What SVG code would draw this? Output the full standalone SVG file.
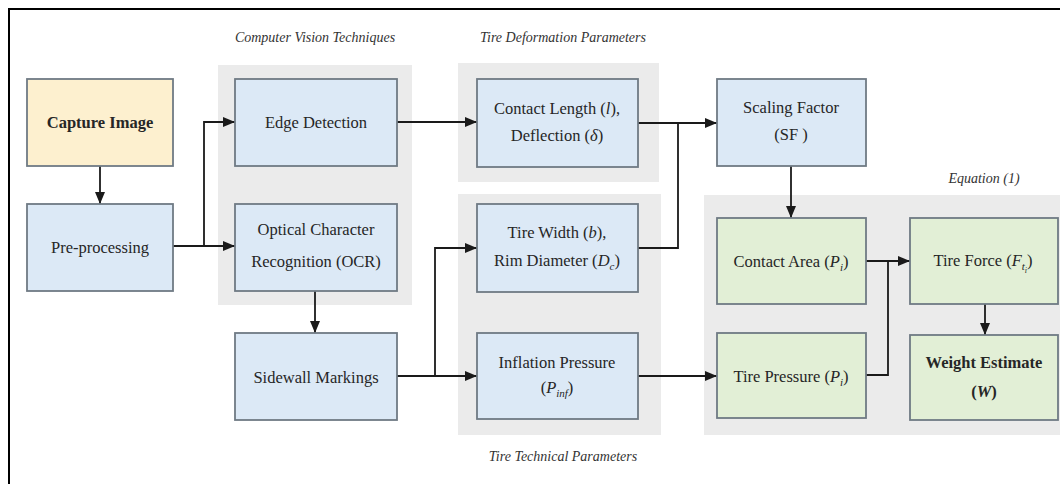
<svg xmlns="http://www.w3.org/2000/svg" width="1060" height="484" viewBox="0 0 1060 484">
  <defs>
    <marker id="arr" markerUnits="userSpaceOnUse" markerWidth="12" markerHeight="10" refX="12" refY="5" orient="auto">
      <path d="M0,0 L12,5 L0,10 Z" fill="#1a1a1a"/>
    </marker>
    <style>
      .grp { fill: #ebebeb; stroke: none; }
      .box { stroke: #6f7a84; stroke-width: 1.8; }
      .blue { fill: #dce9f6; }
      .yellow { fill: #fdf0cf; }
      .green { fill: #e2efd6; }
      .t { font-family: "Liberation Serif", "Times New Roman", serif; font-size: 16.5px; fill: #262626; text-anchor: middle; }
      .b { font-weight: bold; }
      .i { font-style: italic; }
      .title { font-family: "Liberation Serif", "Times New Roman", serif; font-size: 14px; font-style: italic; fill: #333; text-anchor: middle; }
      .con { fill: none; stroke: #1a1a1a; stroke-width: 1.8; }
      .arrow { marker-end: url(#arr); }
    </style>
  </defs>
  <rect x="0" y="0" width="1060" height="484" fill="#ffffff"/>
  <rect x="9" y="9" width="1070" height="500" fill="none" stroke="#000" stroke-width="2"/>

  <g id="groups">
    <rect id="grp-cv" class="grp" x="218" y="65" width="194" height="240"/>
    <rect id="grp-td" class="grp" x="458" y="63" width="201" height="119"/>
    <rect id="grp-tt" class="grp" x="458" y="194" width="203" height="241"/>
    <rect id="grp-eq" class="grp" x="704" y="195" width="356" height="240"/>
    <text class="title" x="315" y="42">Computer Vision Techniques</text>
    <text class="title" x="563" y="42">Tire Deformation Parameters</text>
    <text class="title" x="563" y="461">Tire Technical Parameters</text>
    <text class="title" x="984" y="183">Equation (1)</text>
  </g>

  <g id="connectors">
    <path class="con arrow" d="M100,166 L100,204"/>
    <path class="con arrow" d="M173,246 L235,246"/>
    <path class="con arrow" d="M204,246 L204,122 L235,122"/>
    <path class="con arrow" d="M397,122 L477,122"/>
    <path class="con arrow" d="M638,123 L717,123"/>
    <path class="con" d="M638,248 L678,248 L678,123"/>
    <path class="con arrow" d="M315,291 L315,333"/>
    <path class="con arrow" d="M397,376 L435,376 L435,248 L477,248"/>
    <path class="con arrow" d="M435,376 L477,376"/>
    <path class="con arrow" d="M638,376 L717,376"/>
    <path class="con arrow" d="M791,166 L791,218"/>
    <path class="con arrow" d="M866,261 L910,261"/>
    <path class="con" d="M866,375 L888,375 L888,261"/>
    <path class="con arrow" d="M985,304 L985,335"/>
  </g>

  <g id="capture">
    <rect class="box yellow" x="27" y="79" width="146" height="87"/>
    <text class="t b" x="100" y="128">Capture Image</text>
  </g>
  <g id="preprocessing">
    <rect class="box blue" x="27" y="204" width="146" height="87"/>
    <text class="t" x="100" y="253">Pre-processing</text>
  </g>
  <g id="edge">
    <rect class="box blue" x="235" y="79" width="162" height="87"/>
    <text class="t" x="316" y="128">Edge Detection</text>
  </g>
  <g id="ocr">
    <rect class="box blue" x="235" y="204" width="162" height="87"/>
    <text class="t" x="316" y="235">Optical Character</text>
    <text class="t" x="316" y="267">Recognition (OCR)</text>
  </g>
  <g id="sidewall">
    <rect class="box blue" x="235" y="333" width="162" height="87"/>
    <text class="t" x="316" y="383">Sidewall Markings</text>
  </g>
  <g id="contact-length">
    <rect class="box blue" x="477" y="79" width="161" height="88"/>
    <text class="t" x="557" y="114">Contact Length (<tspan class="i">l</tspan>),</text>
    <text class="t" x="557" y="141">Deflection (<tspan class="i">δ</tspan>)</text>
  </g>
  <g id="tire-width">
    <rect class="box blue" x="477" y="204" width="161" height="88"/>
    <text class="t" x="557" y="238">Tire Width (<tspan class="i">b</tspan>),</text>
    <text class="t" x="557" y="266">Rim Diameter (<tspan class="i">D</tspan><tspan class="i" font-size="11" dy="4">c</tspan><tspan dy="-4">)</tspan></text>
  </g>
  <g id="inflation">
    <rect class="box blue" x="477" y="333" width="161" height="86"/>
    <text class="t" x="557" y="368">Inflation Pressure</text>
    <text class="t" x="557" y="393">(<tspan class="i">P</tspan><tspan class="i" font-size="11" dy="4">inf</tspan><tspan dy="-4">)</tspan></text>
  </g>
  <g id="scaling">
    <rect class="box blue" x="717" y="79" width="149" height="87"/>
    <text class="t" x="791" y="113">Scaling Factor</text>
    <text class="t" x="791" y="140">(SF )</text>
  </g>
  <g id="contact-area">
    <rect class="box green" x="717" y="218" width="149" height="86"/>
    <text class="t" x="791" y="267">Contact Area (<tspan class="i">P</tspan><tspan class="i" font-size="11" dy="4">i</tspan><tspan dy="-4">)</tspan></text>
  </g>
  <g id="tire-pressure">
    <rect class="box green" x="717" y="333" width="149" height="85"/>
    <text class="t" x="791" y="382">Tire Pressure (<tspan class="i">P</tspan><tspan class="i" font-size="11" dy="4">i</tspan><tspan dy="-4">)</tspan></text>
  </g>
  <g id="tire-force">
    <rect class="box green" x="910" y="218" width="148" height="86"/>
    <text class="t" x="983" y="266">Tire Force (<tspan class="i">F</tspan><tspan class="i" font-size="11" dy="4">t</tspan><tspan class="i" font-size="8" dy="3">i</tspan><tspan dy="-7">)</tspan></text>
  </g>
  <g id="weight">
    <rect class="box green" x="910" y="335" width="148" height="85"/>
    <text class="t b" x="984" y="368">Weight Estimate</text>
    <text class="t b" x="984" y="397">(<tspan class="i">W</tspan>)</text>
  </g>
</svg>
